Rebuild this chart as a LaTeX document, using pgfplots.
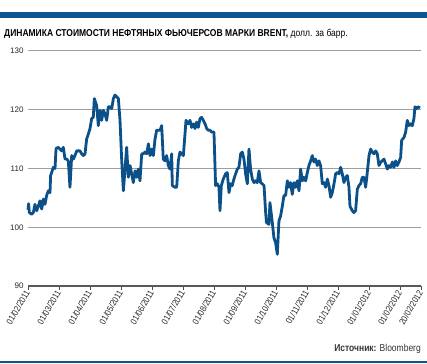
\documentclass[border=0pt]{standalone}
\usepackage{pgfplots}
\pgfplotsset{compat=1.18}
\usepackage{pgfplotstable}
\usepackage{fontspec}
\setmainfont{Liberation Sans}
\newfontfamily\condfont[FakeStretch=0.85]{Liberation Sans}
\definecolor{bandblue}{HTML}{0B5690}
\definecolor{lineblue}{HTML}{0C5089}
\pgfplotstableread{
d v
0 103.0
0.6 104.0
1.3 102.5
3.6 102.2
5.2 102.5
6.8 103.9
8.5 102.8
10.1 103.6
11.7 104.5
13.4 103.1
15.0 104.8
16.6 103.9
18.2 105.4
19.9 106.2
21.5 105.9
22.1 108.8
23.1 109.3
24.8 110.2
26.4 110.0
27.4 113.4
29.6 113.6
31.3 113.3
32.9 113.0
34.5 113.6
36.2 111.6
37.8 111.6
39.4 111.3
41.0 106.8
42.7 112.2
44.3 111.6
45.9 112.2
47.6 113.0
50.8 113.0
52.4 112.5
54.1 112.2
55.7 112.5
57.3 115.0
59.0 115.9
60.6 116.8
62.2 118.5
63.8 118.7
64.8 121.9
67.1 120.7
68.7 117.3
70.4 119.9
72.0 118.2
73.6 119.9
75.2 119.3
76.9 118.2
78.5 120.5
80.1 120.5
81.8 120.2
83.4 121.9
85.0 122.5
86.6 122.2
88.3 121.9
89.9 118.2
91.5 111.6
93.2 106.2
94.8 109.9
96.4 113.6
98.0 108.5
99.7 110.5
101.3 109.1
102.9 107.6
104.6 109.6
106.2 108.5
107.8 109.9
109.4 107.9
111.1 112.5
112.7 112.5
114.3 112.8
116.0 112.5
117.6 114.2
119.2 112.2
120.8 113.3
122.5 112.2
124.1 115.0
125.7 116.5
127.4 116.5
129.0 116.5
130.6 117.3
132.2 111.6
133.9 111.3
135.5 112.2
137.1 110.5
138.8 109.9
140.4 112.5
141.0 107.1
143.6 106.8
145.3 106.8
146.9 111.3
148.5 112.8
150.2 112.5
151.8 112.2
153.4 115.9
154.4 118.2
156.7 117.6
158.3 118.2
159.9 117.0
161.6 117.6
163.2 116.8
164.8 117.9
166.4 117.0
168.1 118.5
169.7 118.7
171.3 118.2
173.0 117.6
174.6 116.8
176.2 116.5
177.9 116.5
179.5 116.2
181.7 116.2
183.3 107.1
185.0 107.4
186.6 106.8
187.6 102.8
188.9 107.1
190.8 108.2
193.1 109.1
194.7 109.3
196.4 105.9
198.0 107.4
199.6 107.1
201.2 108.2
202.9 109.1
204.5 109.9
206.1 110.2
207.8 112.5
209.4 112.8
211.0 111.6
212.6 109.1
214.3 107.4
215.9 113.3
217.5 109.9
219.2 108.2
220.8 107.6
222.4 107.9
224.0 107.6
225.7 109.6
227.3 107.6
228.9 107.4
230.6 107.1
232.2 102.5
233.0 100.8
235.4 100.5
236.4 104.2
238.7 100.8
240.3 98.2
241.9 97.4
243.6 95.4
245.2 101.1
246.8 101.9
248.5 103.6
250.1 105.4
251.7 105.4
253.4 107.9
255.0 106.8
256.6 107.6
258.2 105.6
259.9 107.6
261.5 106.8
263.1 107.9
264.8 106.2
266.4 109.9
268.0 107.9
269.6 108.5
271.3 107.9
272.9 109.3
274.5 110.5
276.2 111.3
277.8 112.2
279.4 111.1
281.0 111.6
282.7 110.5
284.3 111.3
285.9 110.5
287.6 107.4
289.2 107.6
290.8 106.8
292.5 108.2
294.1 107.1
295.7 105.1
297.3 105.9
299.0 107.4
300.6 109.1
302.2 109.3
303.9 109.1
305.5 110.2
307.1 109.1
308.7 107.6
310.4 108.5
312.0 108.8
313.6 106.8
314.6 103.6
316.9 102.8
318.5 102.5
320.1 102.8
321.8 106.5
323.4 107.1
325.0 107.4
326.6 108.5
328.3 108.5
329.9 106.8
331.5 109.3
333.2 112.2
334.8 113.3
336.4 112.8
338.0 112.5
339.7 113.0
341.3 112.5
342.9 110.5
344.6 111.1
346.2 111.3
347.8 111.6
349.4 110.8
351.1 109.9
352.7 110.5
354.3 110.2
356.0 111.1
357.6 110.2
359.2 111.3
360.8 110.5
362.5 111.1
364.1 111.9
365.1 114.8
367.4 115.3
369.0 116.2
370.6 118.2
372.2 117.3
373.9 117.6
375.5 117.3
377.1 118.5
378.1 120.5
379.7 120.2
381.0 120.5
383.0 120.3
}\brent
\begin{document}
\begin{tikzpicture}[x=1pt,y=1pt]
\path[use as bounding box] (0,0) rectangle (427,363);
\fill[bandblue] (0,345) rectangle (427,351);
\node[anchor=base west, inner sep=0pt, font=\condfont\fontsize{10}{12}\selectfont] at (4,326)
  {\textbf{ДИНАМИКА СТОИМОСТИ НЕФТЯНЫХ ФЬЮЧЕРСОВ МАРКИ BRENT,} долл. за барр.};
\begin{axis}[
  at={(28pt,77pt)}, anchor=south west,
  scale only axis, width=393pt, height=235pt,
  xmin=0, xmax=384, ymin=90, ymax=130,
  ytick={90,100,110,120,130},
  xtick={0,30.3,60.6,90.9,121.2,151.5,181.8,212.1,242.4,272.7,303,333.3,363.6,384},
  xticklabels={01/02/2011,01/03/2011,01/04/2011,01/05/2011,01/06/2011,01/07/2011,01/08/2011,01/09/2011,01/10/2011,01/11/2011,01/12/2011,01/01/2012,01/02/2012,20/02/2012},
  axis line style={draw=none},
  tick pos=left,
  ytick style={draw=none},
  xtick style={draw=black!70, line width=0.8pt},
  xtick align=outside,
  major tick length=4pt,
  ymajorgrids,
  grid style={draw=black!38, line width=1pt},
  yticklabel style={font=\fontsize{8}{9}\selectfont, text=black!85, xshift=-1pt},
  xticklabel style={font=\condfont\fontsize{9}{9}\selectfont, text=black!85, rotate=60, anchor=east, inner sep=1pt},
  /pgf/number format/assume math mode=true,
  clip=false,
]
\draw[black!65, line width=1.3pt] (axis cs:0,90) -- (axis cs:384,90);
\addplot[lineblue, line width=2.8pt, line join=round, no markers] table[x=d, y=v] {\brent};
\end{axis}
\node[anchor=base east, inner sep=0pt, font=\condfont\fontsize{10}{12}\selectfont, text=black!80] at (421,12)
  {\textbf{Источник:} Bloomberg};
\fill[bandblue] (0,0.5) rectangle (427,2);
\end{tikzpicture}
\end{document}
